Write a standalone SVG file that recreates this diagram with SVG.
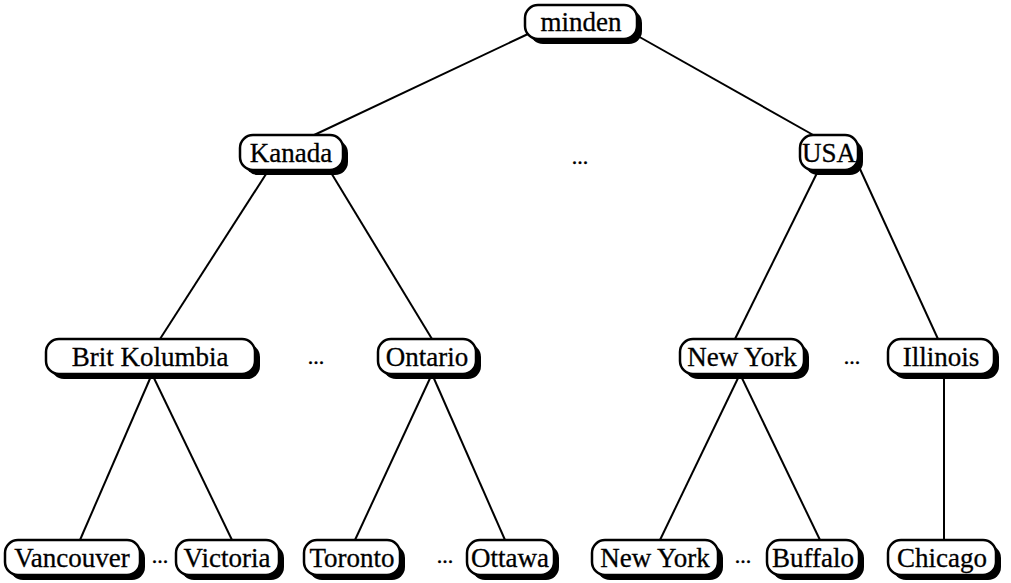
<svg xmlns="http://www.w3.org/2000/svg" width="1011" height="583" viewBox="0 0 1011 583">
  <style>
    .edge { stroke: #000; stroke-width: 2; fill: none; }
    .shadow { fill: #000; }
    .box { fill: #fff; stroke: #000; stroke-width: 2.5; }
    .label { font-family: "Liberation Serif", "Times New Roman", serif; font-size: 27px; fill: #000; stroke: #000; stroke-width: 0.3; text-anchor: middle; dominant-baseline: central; }
    .dots { font-family: "Liberation Serif", "Times New Roman", serif; font-size: 22px; fill: #000; stroke: #000; stroke-width: 0.4; text-anchor: middle; }
  </style>
  <rect width="1011" height="583" fill="#fff"/>

  <!-- tree edges -->
  <g id="connectors">
    <line class="edge" x1="528" y1="34" x2="312" y2="136"/>
    <line class="edge" x1="636" y1="35" x2="815" y2="136"/>
    <line class="edge" x1="268" y1="171" x2="160" y2="339"/>
    <line class="edge" x1="330" y1="171" x2="432" y2="339"/>
    <line class="edge" x1="818" y1="171" x2="735" y2="339"/>
    <line class="edge" x1="860" y1="169" x2="938" y2="339"/>
    <line class="edge" x1="152" y1="374" x2="80" y2="540"/>
    <line class="edge" x1="152" y1="374" x2="232" y2="540"/>
    <line class="edge" x1="432" y1="374" x2="355" y2="540"/>
    <line class="edge" x1="432" y1="374" x2="505" y2="540"/>
    <line class="edge" x1="740" y1="374" x2="660" y2="540"/>
    <line class="edge" x1="740" y1="374" x2="820" y2="540"/>
    <line class="edge" x1="944" y1="374" x2="944" y2="540"/>
  </g>

  <!-- ellipses between siblings -->
  <g id="ellipses">
    <text class="dots" x="580" y="164">...</text>
    <text class="dots" x="316" y="364">...</text>
    <text class="dots" x="852" y="364">...</text>
    <text class="dots" x="160" y="563">...</text>
    <text class="dots" x="445" y="563">...</text>
    <text class="dots" x="743" y="563">...</text>
  </g>

  <g id="n-minden">
    <rect class="shadow" x="530" y="10" width="112" height="34" rx="13"/>
    <rect class="box" x="525" y="5" width="112" height="34" rx="13"/>
    <text class="label" x="581" y="22">minden</text>
  </g>
  <g id="n-kanada">
    <rect class="shadow" x="245" y="140" width="103" height="35" rx="13"/>
    <rect class="box" x="240" y="135" width="103" height="35" rx="13"/>
    <text class="label" x="291" y="153">Kanada</text>
  </g>
  <g id="n-usa">
    <rect class="shadow" x="805" y="140" width="58" height="35" rx="13"/>
    <rect class="box" x="800" y="135" width="58" height="35" rx="13"/>
    <text class="label" x="829" y="153">USA</text>
  </g>
  <g id="n-britkolumbia">
    <rect class="shadow" x="51" y="344" width="209" height="35" rx="13"/>
    <rect class="box" x="46" y="339" width="209" height="35" rx="13"/>
    <text class="label" x="150" y="357">Brit Kolumbia</text>
  </g>
  <g id="n-ontario">
    <rect class="shadow" x="383" y="344" width="98" height="35" rx="13"/>
    <rect class="box" x="378" y="339" width="98" height="35" rx="13"/>
    <text class="label" x="427" y="357">Ontario</text>
  </g>
  <g id="n-newyork-state">
    <rect class="shadow" x="685" y="344" width="124" height="35" rx="13"/>
    <rect class="box" x="680" y="339" width="124" height="35" rx="13"/>
    <text class="label" x="742" y="357">New York</text>
  </g>
  <g id="n-illinois">
    <rect class="shadow" x="893" y="344" width="106" height="35" rx="13"/>
    <rect class="box" x="888" y="339" width="106" height="35" rx="13"/>
    <text class="label" x="941" y="357">Illinois</text>
  </g>
  <g id="n-vancouver">
    <rect class="shadow" x="10" y="545" width="135" height="35" rx="13"/>
    <rect class="box" x="5" y="540" width="135" height="35" rx="13"/>
    <text class="label" x="72" y="558">Vancouver</text>
  </g>
  <g id="n-victoria">
    <rect class="shadow" x="181" y="545" width="103" height="35" rx="13"/>
    <rect class="box" x="176" y="540" width="103" height="35" rx="13"/>
    <text class="label" x="227" y="558">Victoria</text>
  </g>
  <g id="n-toronto">
    <rect class="shadow" x="309" y="545" width="96" height="35" rx="13"/>
    <rect class="box" x="304" y="540" width="96" height="35" rx="13"/>
    <text class="label" x="352" y="558">Toronto</text>
  </g>
  <g id="n-ottawa">
    <rect class="shadow" x="472" y="545" width="87" height="35" rx="13"/>
    <rect class="box" x="467" y="540" width="87" height="35" rx="13"/>
    <text class="label" x="510" y="558">Ottawa</text>
  </g>
  <g id="n-newyork-city">
    <rect class="shadow" x="597" y="545" width="126" height="35" rx="13"/>
    <rect class="box" x="592" y="540" width="126" height="35" rx="13"/>
    <text class="label" x="655" y="558">New York</text>
  </g>
  <g id="n-buffalo">
    <rect class="shadow" x="772" y="545" width="92" height="35" rx="13"/>
    <rect class="box" x="767" y="540" width="92" height="35" rx="13"/>
    <text class="label" x="813" y="558">Buffalo</text>
  </g>
  <g id="n-chicago">
    <rect class="shadow" x="893" y="545" width="108" height="35" rx="13"/>
    <rect class="box" x="888" y="540" width="108" height="35" rx="13"/>
    <text class="label" x="942" y="558">Chicago</text>
  </g>
</svg>
